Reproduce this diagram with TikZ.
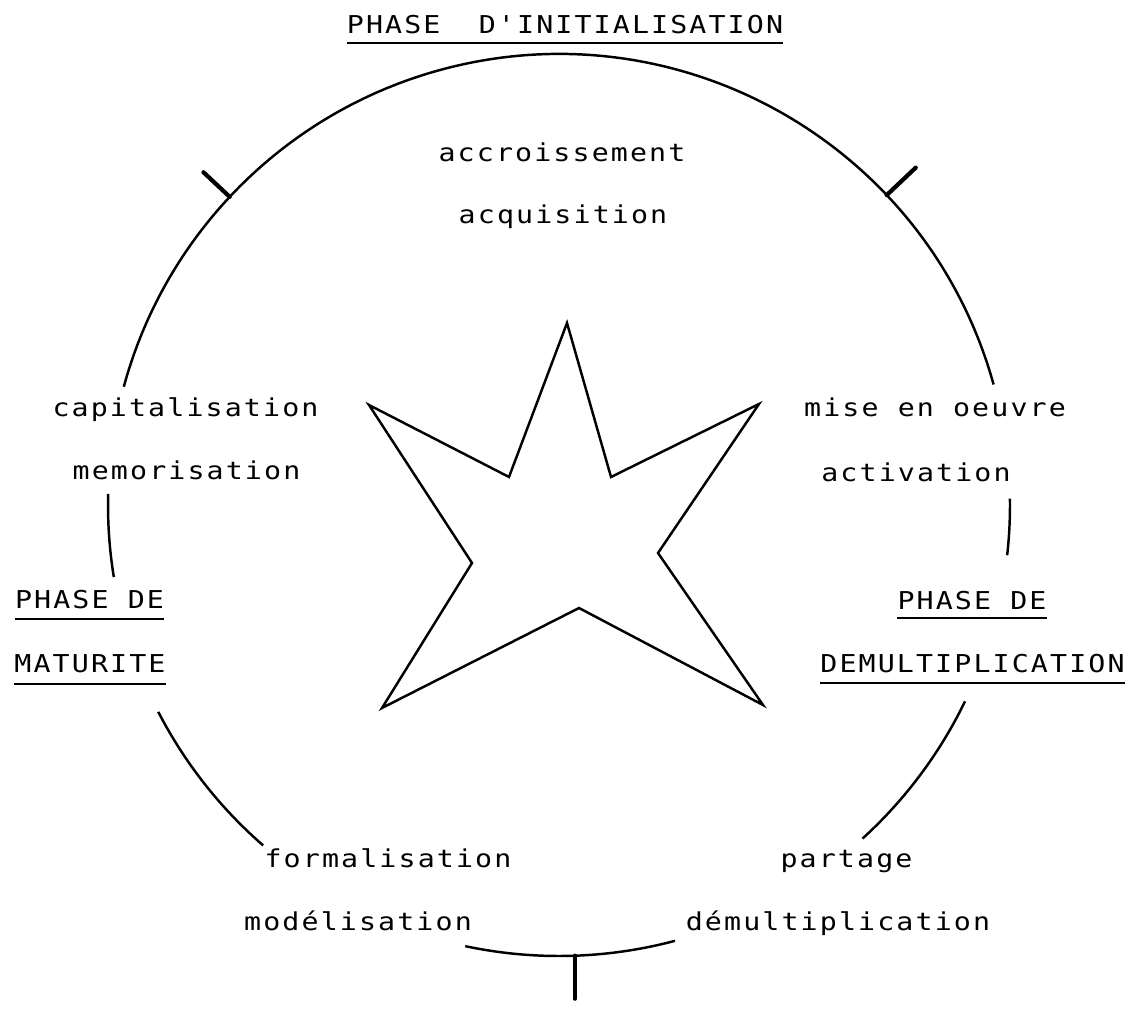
\documentclass[tikz,border=0pt]{standalone}
\usepackage{fontspec}
\newfontfamily\plotfont[FakeStretch=1.15,LetterSpace=8.6]{DejaVu Sans Mono}

\begin{document}
\begin{tikzpicture}[
        cycletext/.style={font=\plotfont\fontsize{14}{16}\selectfont, inner sep=0pt, anchor=base},
        ruling/.style={line width=1.2pt},
        phasemark/.style={line width=2.4pt, line cap=round},
        rim/.style={line width=1.4pt}
    ]
        \useasboundingbox (0, 0) rectangle (22.66, 20.2);
        \coordinate (C) at (11.18, 10.10);

        % Phase titles
        \node[cycletext] (initA) at (11.30, 19.53) {PHASE\ \ D'INITIALISATION};
        \node[cycletext] (matA) at (1.79, 8.02) {PHASE DE};
        \node[cycletext] (matB) at (1.80, 6.74) {MATURITE};
        \node[cycletext] (demA) at (19.44, 8.00) {PHASE DE};
        \node[cycletext] (demB) at (19.45, 6.74) {DEMULTIPLICATION};

        % Underlines
        \draw[ruling] ([yshift=-1.9mm]initA.base west) -- ([yshift=-1.9mm]initA.base east);
        \draw[ruling] ([yshift=-2mm]matA.base west) -- ([yshift=-2mm]matA.base east);
        \draw[ruling] ([yshift=-2.2mm]matB.base west) -- ([yshift=-2.2mm]matB.base east);
        \draw[ruling] ([yshift=-1.6mm]demA.base west) -- ([yshift=-1.6mm]demA.base east);
        \draw[ruling] ([yshift=-2mm]demB.base west) -- ([yshift=-2mm]demB.base east);

        % Steps of the cycle
        \node[cycletext] (accr) at (11.24, 16.96) {accroissement};
        \node[cycletext] (acqu) at (11.26, 15.72) {acquisition};
        \node[cycletext] (mise) at (18.70, 11.86) {mise en oeuvre};
        \node[cycletext] (acti) at (18.32, 10.56) {activation};
        \node[cycletext] (part) at (16.93, 2.86) {partage};
        \node[cycletext] (demu) at (16.76, 1.60) {démultiplication};
        \node[cycletext] (form) at (7.76, 2.86) {formalisation};
        \node[cycletext] (mode) at (7.16, 1.60) {modélisation};
        \node[cycletext] (capi) at (3.71, 11.86) {capitalisation};
        \node[cycletext] (memo) at (3.73, 10.60) {memorisation};

        % Circle, in pieces
        \draw[rim] (C) ++(15.5:9.02) arc[start angle=15.5, end angle=164.8, radius=9.02];
        \draw[rim] (C) ++(178.6:9.02) arc[start angle=178.6, end angle=189.2, radius=9.02];
        \draw[rim] (C) ++(207.3:9.02) arc[start angle=207.3, end angle=229, radius=9.02];
        \draw[rim] (C) ++(258:9.02) arc[start angle=258, end angle=284.9, radius=9.02];
        \draw[rim] (C) ++(-47.7:9.02) arc[start angle=-47.7, end angle=-25.8, radius=9.02];
        \draw[rim] (C) ++(-6.4:9.02) arc[start angle=-6.4, end angle=0.8, radius=9.02];

        % Phase limits
        \draw[phasemark] (C) ++(136.9:9.02) -- ++(136.9:0.72);
        \draw[phasemark] (C) ++(43.4:9.02) -- ++(43.4:0.8);
        \draw[phasemark] (C) ++(272:9.02) -- ++(0, -0.86);

        % Star
        \draw[line width=1.4pt, line join=miter]
            (11.34, 13.74) -- (12.22, 10.66) -- (15.18, 12.12) -- (13.16, 9.14)
            -- (15.26, 6.10) -- (11.58, 8.04) -- (7.64, 6.04) -- (9.44, 8.94)
            -- (7.38, 12.10) -- (10.18, 10.66) -- cycle;
    \end{tikzpicture}
\end{document}
